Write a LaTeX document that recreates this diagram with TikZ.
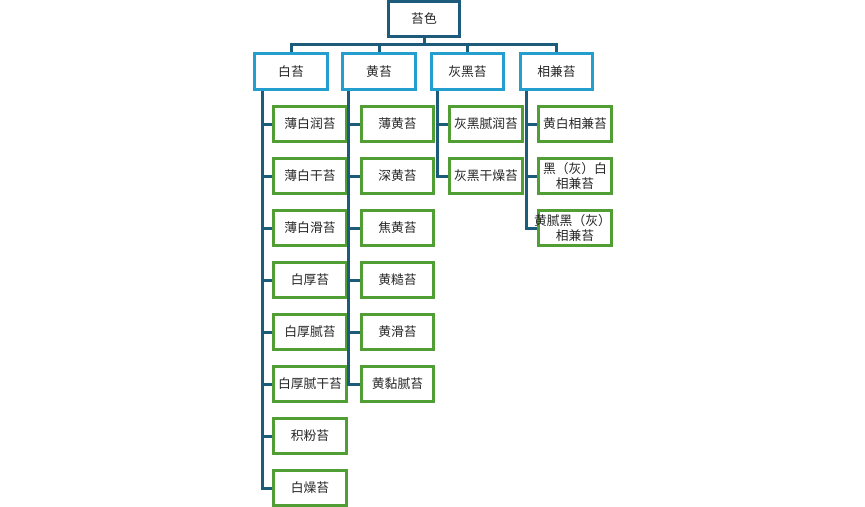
\documentclass[tikz,border=0pt]{standalone}
\usepackage{fontspec}
\newfontfamily\cjk{Noto Sans CJK SC}
\usetikzlibrary{calc}
\definecolor{darkline}{RGB}{28,92,122}
\definecolor{lblue}{RGB}{36,158,206}
\definecolor{lgreen}{RGB}{80,158,52}
\tikzset{
  base/.style={draw, fill=white, line width=2.25pt, inner sep=0pt, align=center,
    font=\cjk\fontsize{9.6}{11.6}\selectfont, text=black!85},
  rootbox/.style={base, draw=darkline, minimum width=53.5pt, minimum height=26.5pt},
  topbox/.style={base, draw=lblue, minimum width=54.5pt, minimum height=27pt},
  leafbox/.style={base, draw=lgreen, minimum width=54.5pt, minimum height=26.5pt},
  conn/.style={draw=darkline, line width=2.25pt}
}
\begin{document}
\begin{tikzpicture}[x=0.75pt,y=-0.75pt]
\useasboundingbox (0,0) rectangle (865,507);
% root
\node[rootbox] (root) at (424,19) {苔色};
% level 1
\node[topbox] (b1) at (291,71.5) {白苔};
\node[topbox] (b2) at (379,71.5) {黄苔};
\node[topbox] (b3) at (467.5,71.5) {灰黑苔};
\node[topbox] (b4) at (556.5,71.5) {相兼苔};
% level 2 col 1
\node[leafbox] (c11) at (310,124) {薄白润苔};
\node[leafbox] (c12) at (310,176) {薄白干苔};
\node[leafbox] (c13) at (310,228) {薄白滑苔};
\node[leafbox] (c14) at (310,280) {白厚苔};
\node[leafbox] (c15) at (310,332) {白厚腻苔};
\node[leafbox] (c16) at (310,384) {白厚腻干苔};
\node[leafbox] (c17) at (310,436) {积粉苔};
\node[leafbox] (c18) at (310,488) {白燥苔};
% col 2
\node[leafbox] (c21) at (397.5,124) {薄黄苔};
\node[leafbox] (c22) at (397.5,176) {深黄苔};
\node[leafbox] (c23) at (397.5,228) {焦黄苔};
\node[leafbox] (c24) at (397.5,280) {黄糙苔};
\node[leafbox] (c25) at (397.5,332) {黄滑苔};
\node[leafbox] (c26) at (397.5,384) {黄黏腻苔};
% col 3
\node[leafbox] (c31) at (486,124) {灰黑腻润苔};
\node[leafbox] (c32) at (486,176) {灰黑干燥苔};
% col 4
\node[leafbox] (c41) at (575,124) {黄白相兼苔};
\node[leafbox] (c42) at (575,176) {黑（灰）白\\相兼苔};
\node[leafbox] (c43) at (575,228) {\makebox[0pt]{黄腻黑（灰）\hspace{3.75pt}}\\相兼苔};
% connectors root -> level 1
\foreach \b in {b1,b2,b3,b4}
  \draw[conn] (root.south) -- ++(0,6.5) -| (\b.north);
% level1 -> level 2
\foreach \c in {c11,c12,c13,c14,c15,c16,c17,c18}
  \draw[conn] ($(b1.south west)+(9,0)$) |- (\c.west);
\foreach \c in {c21,c22,c23,c24,c25,c26}
  \draw[conn] ($(b2.south west)+(7,0)$) |- (\c.west);
\foreach \c in {c31,c32}
  \draw[conn] ($(b3.south west)+(8,0)$) |- (\c.west);
\foreach \c in {c41,c42,c43}
  \draw[conn] ($(b4.south west)+(8,0)$) |- (\c.west);
\end{tikzpicture}
\end{document}
